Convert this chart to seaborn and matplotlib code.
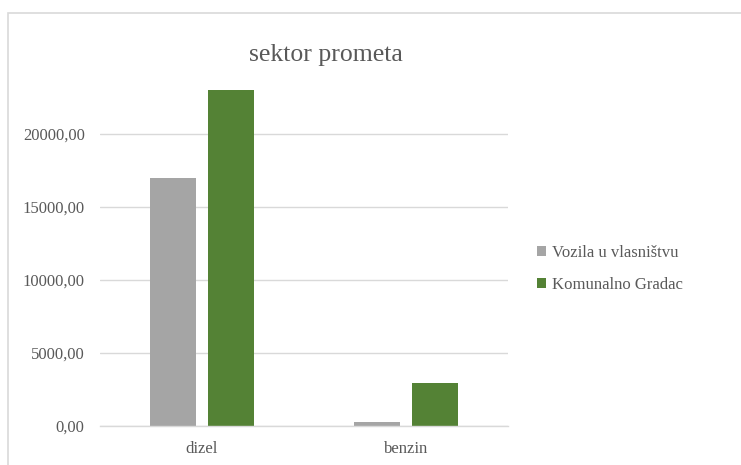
import matplotlib
matplotlib.use("Agg")
import matplotlib.pyplot as plt
from matplotlib.patches import Rectangle
from matplotlib.ticker import FuncFormatter, MultipleLocator
import pandas as pd
import seaborn as sns

# Fuel consumption by vehicle group in the transport sector
categories = ["dizel", "benzin"]
series_names = ["Vozila u vlasništvu", "Komunalno Gradac"]
vozila_values = [17000.0, 270.0]
komunalno_values = [23000.0, 2950.0]
title_text = "sektor prometa"

colors = ["#A5A5A5", "#548235"]
text_color = "#595959"
grid_color = "#D9D9D9"

df = pd.DataFrame({
    "gorivo": categories * 2,
    "skupina": [series_names[0]] * len(categories) + [series_names[1]] * len(categories),
    "vrijednost": vozila_values + komunalno_values,
})

sns.set_theme(style="white")
plt.rcParams["font.family"] = ["Liberation Serif", "DejaVu Serif"]

W, H = 741, 465
fig = plt.figure(figsize=(W / 100, H / 100), dpi=100)
fig.patch.set_facecolor("white")

ymax = 23400.0
px_per_unit = 292 / 20000
ax_left, ax_right, ax_bottom = 100, 508, 426
ax_top = ax_bottom - ymax * px_per_unit
ax = fig.add_axes([ax_left / W, (H - ax_bottom) / H,
                   (ax_right - ax_left) / W, (ax_bottom - ax_top) / H])

sns.barplot(data=df, x="gorivo", y="vrijednost", hue="skupina",
            order=categories, hue_order=series_names, palette=colors,
            width=0.574, gap=0.214, saturation=1, ax=ax, legend=False,
            linewidth=0)

ax.set_ylim(0, ymax)
ax.set_xlim(-0.5, 1.5)
ax.yaxis.set_major_locator(MultipleLocator(5000))
ax.yaxis.set_major_formatter(FuncFormatter(lambda v, _: f"{v:.2f}".replace(".", ",")))
ax.grid(axis="y", color=grid_color, linewidth=1.0)
ax.set_axisbelow(True)
for side in ["top", "right", "left"]:
    ax.spines[side].set_visible(False)
ax.spines["bottom"].set_color(grid_color)
ax.spines["bottom"].set_linewidth(1.0)
ax.set_xlabel("")
ax.set_ylabel("")
ax.tick_params(axis="both", length=0, labelsize=12, labelcolor=text_color)
ax.tick_params(axis="y", pad=11)
ax.tick_params(axis="x", pad=11)

# chart title
fig.text(326 / W, 1 - 55 / H, title_text, ha="center", va="center",
         fontsize=18.5, color=text_color)

# legend on the right side
handles = [Rectangle((0, 0), 1, 1, facecolor=c, edgecolor="none") for c in colors]
fig.legend(handles, series_names, loc="center left",
           bbox_to_anchor=(537 / W, 1 - 269 / H), frameon=False,
           fontsize=12, labelcolor=text_color, handlelength=0.55,
           handleheight=0.55, handletextpad=0.35, labelspacing=0.95,
           borderpad=0, borderaxespad=0)

# outer chart frame
fig.patches.append(Rectangle((8 / W, -0.1), 1.2, 1 - 13 / H + 0.1,
                             transform=fig.transFigure, fill=False,
                             edgecolor=grid_color, linewidth=1.2))

fig.savefig("out.png", dpi=100)
